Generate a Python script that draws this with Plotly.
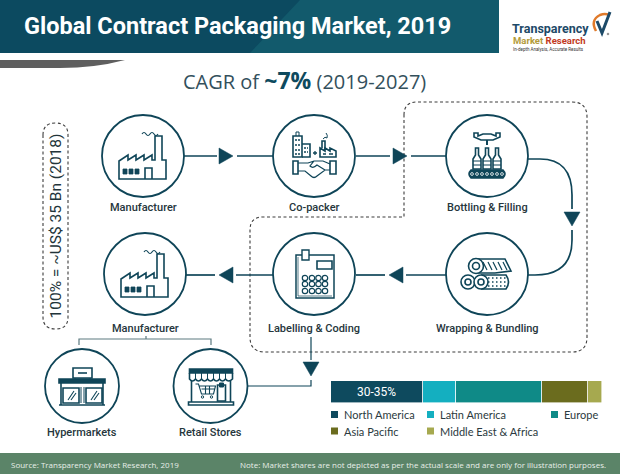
import re
import plotly.graph_objects as go

# market share bar
regions = ["North America", "Latin America", "Europe", "Asia Pacific", "Middle East & Africa"]
region_share = [34, 12, 32, 17, 5]
region_text = ["30-35%", "", "", "", ""]
region_colors = ["#0e4a5e", "#14afc0", "#0f8a87", "#6b6c1e", "#a6a94f"]

title_text = "Global Contract Packaging Market, 2019"
cagr_text = "CAGR of <b><span style='color:#0e4a5e;font-size:23px'>~7%</span></b> (2019-2027)"
size_text = "100% = ~US$ 35 Bn (2018)"
source_text = "Source: Transparency Market Research, 2019"
note_text = "Note: Market shares are not depicted as per the actual scale and are only for illustration purposes."
step_labels = ["Manufacturer", "Co-packer", "Bottling & Filling", "Wrapping & Bundling",
               "Labelling & Coding", "Manufacturer", "Hypermarkets", "Retail Stores"]

DARK = "#0f4558"
shapes = []
notes = []


def shift(d, cx, cy):
    # move a path written around 0,0 to the icon centre
    nums = iter(range(100000))
    def repl(m):
        v = float(m.group(0))
        return str(v + (cx if next(nums) % 2 == 0 else cy))
    return re.sub(r"-?\d+\.?\d*", repl, d)


def line(d, color=DARK, width=1.6, fill=None, dash=None):
    s = dict(type="path", path=d, xref="x", yref="y", line=dict(color=color, width=width, dash=dash))
    if fill:
        s["fillcolor"] = fill
    shapes.append(s)


def circle(cx, cy, r, color=DARK, width=1.8, fill=None):
    s = dict(type="circle", xref="x", yref="y", x0=cx - r, x1=cx + r, y0=cy - r, y1=cy + r,
             line=dict(color=color, width=width))
    if fill:
        s["fillcolor"] = fill
    shapes.append(s)


def rect(x0, y0, x1, y1, fill, color=None):
    shapes.append(dict(type="rect", xref="x", yref="y", x0=x0, x1=x1, y0=y0, y1=y1,
                       fillcolor=fill, line=dict(width=0 if color is None else 1, color=color)))


def text(x, y, s, size=11, color="#26363c", anchor="center", family="Roboto", weight=None, angle=0):
    f = dict(size=size, color=color, family=family)
    if weight:
        f["weight"] = weight
    notes.append(dict(x=x, y=y, xref="x", yref="y", text=s, showarrow=False, xanchor=anchor,
                      yanchor="middle", font=f, textangle=angle))


def tri(cx, cy, direction, size=7):
    if direction == "right":
        d = f"M{cx-size} {cy-size-1} L{cx+size} {cy} L{cx-size} {cy+size+1} Z"
    elif direction == "left":
        d = f"M{cx+size} {cy-size-1} L{cx-size} {cy} L{cx+size} {cy+size+1} Z"
    else:
        d = f"M{cx-size-1} {cy-size} L{cx+size+1} {cy-size} L{cx} {cy+size} Z"
    line(d, fill=DARK, width=0.5)


def factory(cx, cy):
    line(shift("M-24 23 L-24 5 L-15 -1 L-15 4 L-7 -1 L-7 4 L1 -1 L1 4 L9 -1 L9 4 L12 4 L12 -20 L19 -20 L19 4 L23 4 L23 23 Z", cx, cy))
    line(shift("M-1 -22 Q1 -25 3 -22 Q5 -19 7 -22 Q9 -25 11 -22 Q13 -19 15 -22", cx, cy), width=1.2)
    for wx in (-20, -14, -8):
        line(shift(f"M{wx} 13 L{wx+4} 13 L{wx+4} 18 L{wx} 18 Z", cx, cy), fill=DARK, width=0.8)
    line(shift("M2 23 L2 12 L9 12 L9 23", cx, cy))


def copacker(cx, cy):
    line(shift("M-21 1 L-21 -20 L-12 -20 L-12 1 Z", cx, cy))
    line(shift("M-18 -20 L-18 -24 L-15 -24 L-15 -20", cx, cy), width=1)
    line(shift("M-12 -12 L-4 -12 L-4 1 L-12 1", cx, cy))
    for wy in (-16, -11, -6, -2):
        line(shift(f"M-19 {wy} L-14 {wy}", cx, cy), width=1.4, dash="2px,1px")
    for wy in (-8, -4):
        line(shift(f"M-10 {wy} L-6 {wy}", cx, cy), width=1.4, dash="2px,1px")
    line(shift("M-1 -3 L3 -3 M1 -5 L1 -1", cx, cy), width=1.3)
    line(shift("M6 1 L6 -8 L11 -5 L11 -8 L16 -5 L16 -8 L22 -5 L22 1 Z", cx, cy))
    line(shift("M8 -8 L8 -15 L11 -15 L11 -6", cx, cy))
    line(shift("M9 -17 Q11 -20 13 -18 Q14 -21 12 -23", cx, cy), width=1)
    line(shift("M9 -2 L12 -2 M15 -2 L19 -2", cx, cy), width=1.6)
    line(shift("M-21 5 L-16 5 L-16 18 L-21 18 Z M22 5 L16 5 L16 18 L22 18 Z", cx, cy))
    line(shift("M-16 7 L-6 7 L0 5 L9 5 L16 8 M-16 15 L-9 15 L-3 20 Q0 23 3 20 L11 14 L16 14 M0 5 L-4 10 Q-1 13 3 9 L11 14", cx, cy), width=1.2)


def bottling(cx, cy):
    line(shift("M-13 -23 L-9 -23 L-9 -20 L-4 -22 L4 -22 L9 -20 L9 -23 L13 -23 L13 -19 L6 -16 L-6 -16 L-13 -19 Z", cx, cy))
    line(shift("M0 -16 L0 -11", cx, cy), width=2)
    for bx in (-10, 0, 10):
        line(shift(f"M{bx-1.5} -8 L{bx+1.5} -8 L{bx+1.5} -1 L{bx+4} 3 L{bx+4} 13 L{bx-4} 13 L{bx-4} 3 L{bx-1.5} -1 Z", cx, cy))
        line(shift(f"M{bx-4} 5 L{bx+4} 5 M{bx-4} 9 L{bx+4} 9", cx, cy), width=1)
    line(shift("M-16 14 L16 14 Q20 18 16 22 L-16 22 Q-20 18 -16 14 Z", cx, cy), fill=DARK)
    for rx in range(-15, 16, 5):
        circle(cx + rx, cy + 18, 1.4, color="#ffffff", width=0.8)


def wrapping(cx, cy):
    line(shift("M-11 -15 L18 -15 L24 -3 L8 -1 M-11 -1 L8 -1", cx, cy))
    line(shift("M-4 -12 L0 -4 M1 -12 L5 -4 M6 -12 L10 -4 M11 -12 L15 -4 M16 -12 L20 -4", cx, cy), width=1.2)
    line(shift("M-6 1 L19 1 Q24 8 19 15 L-6 15", cx, cy))
    for rx in range(1, 21, 4):
        for ry in (4, 8, 12):
            line(shift(f"M{rx} {ry} L{rx+1.5} {ry}", cx, cy), width=1.3)
    for (ex, ey, r) in ((-11, -8, 7.5), (-19, 8, 7), (-6, 8, 7)):
        circle(cx + ex, cy + ey, r, fill="#ffffff", width=1.6)
        circle(cx + ex, cy + ey, r - 4, width=1.6)


def labelling(cx, cy):
    line(shift("M-18 -19 L20 -19 L20 24 L-18 24 Z", cx, cy), width=1.5)
    line(shift("M-16 -17 L-16 22 L18 22", cx, cy), width=0.7)
    line(shift("M-12 -24 L-5 -24 L-5 -14 L-12 -14 Z", cx, cy), fill="#ffffff", width=1.4)
    line(shift("M3 -13 L18 -13 L18 -5 L3 -5 Z", cx, cy))
    for ky in (4, 10, 17):
        for kx in (-9, -2, 4.5, 11):
            circle(cx + kx, cy + ky, 2.7, width=1.2)


def hypermarket(cx, cy):
    line(shift("M-9 -18 L10 -18 L10 -8 L-9 -8 Z", cx, cy))
    line(shift("M-4 -13 L5 -13", cx, cy), width=1.6)
    line(shift("M-7 -8 L-7 -6 L8 -6 L8 -8", cx, cy), width=1)
    line(shift("M-23 -3 L-23 -7 L23 -7 L23 -3 Z", cx, cy), fill=DARK)
    line(shift("M-21 -3 L-21 19 M21 -3 L21 19 M-23 19 L23 19", cx, cy))
    line(shift("M-19 2 L-3 2 L-3 17 L-19 17 Z M4 2 L20 2 L20 17 L4 17 Z", cx, cy))
    line(shift("M-1 1 L-1 17 M2 1 L2 17", cx, cy), width=1)
    line(shift("M-14 14 L-8 5 M-11 14 L-6 7 M9 14 L15 5 M12 14 L17 7", cx, cy), width=1.1)


def retail(cx, cy):
    line(shift("M-21 -17 L22 -17 L22 -13 L-21 -13 Z", cx, cy), fill=DARK)
    line(shift("M-21 -13 L-21 -7 Q-18 -3 -15 -7 Q-12 -3 -9 -7 Q-6 -3 -3 -7 Q0 -3 3 -7 Q6 -3 9 -7 Q12 -3 15 -7 Q18 -3 22 -7 L22 -13", cx, cy))
    line(shift("M-15 -13 L-15 -7 M-9 -13 L-9 -7 M-3 -13 L-3 -7 M3 -13 L3 -7 M9 -13 L9 -7 M15 -13 L15 -7", cx, cy), width=1)
    line(shift("M-19 -5 L-19 16 M20 -5 L20 16 M-22 16 L23 16 L23 19 L-22 19 Z", cx, cy))
    line(shift("M7 -1 L15 -1 L15 15 L7 15 Z", cx, cy))
    line(shift("M9 -3 L13 -3 L13 1 L9 1 Z", cx, cy), width=1, fill=DARK)
    line(shift("M-15 -2 L-12 -2 L-9 8 L3 8 L5 0 L-11 0 M-9 3 L4 3 M-5 0 L-5 8 M-1 0 L-1 8", cx, cy), width=1.1)
    circle(cx - 8, cy + 11, 1.2, width=1)
    circle(cx + 1, cy + 11, 1.2, width=1)


# header, swoosh, footer
rect(0, 0, 499, 53, "#0c4a60")
line("M300 0 L499 0 L499 53 L250 53 Z", color="#125a6c", width=0, fill="#125a6c")
line("M0 60 L125 60 Q95 68 60 68 L0 68 Z", color="#5f5f5f", width=0, fill="#5f5f5f")
rect(0, 453, 620, 474, "#5b8468")
text(22, 26, title_text, size=23.5, color="#ffffff", anchor="left", family="Roboto", weight="bold")
text(304, 80, cagr_text, size=20, color="#33505c", family="Open Sans")
text(9, 464, source_text, size=8, color="#e8efe8", anchor="left", family="Open Sans")
text(608, 464, note_text, size=8, color="#e8efe8", anchor="right", family="Open Sans")

# logo
text(510, 28, "Transparency", size=12.5, color="#1d4a68", anchor="left", family="Roboto", weight="bold")
text(511, 40.5, "<span style='color:#b39b3a'>Market</span> <span style='color:#c23a22'>Research</span>",
     size=9.5, anchor="left", family="Roboto", weight="bold")
text(511, 49.5, "In-depth Analysis, Accurate Results", size=4.5, color="#333333", anchor="left")
line("M596 31 Q590 20 600 15 Q605 13 609 15", color="#e07a2a", width=2.5)
line("M597 21 L602 33 L610 12", color="#1d4a68", width=3)
circle(608, 34, 0.8, color="#777777", width=1)

# dashed frames
line("M404 115 Q404 102 417 102 L572 102 Q587 102 587 117 L587 337 Q587 352 572 352 L265 352 "
     "Q250 352 250 337 L250 230 Q250 217 263 217 L404 217 Z", color="#3c3c3c", width=1.1, dash="3px,2.5px")
line("M43 135 Q43 123 55.5 123 Q68 123 68 135 L68 317 Q68 329 55.5 329 Q43 329 43 317 Z",
     color="#3c3c3c", width=1.1, dash="3px,2.5px")
text(55.5, 226, size_text, size=15.5, color="#22343a", family="Roboto", angle=-90)

# process flow lines
for d in ("M184 156 L217 156", "M237 156 L273 156", "M356 156 L390 156", "M411 156 L446 156",
          "M528 159 L540 159 Q572 159 572 195 L572 209", "M572 230 L572 240 Q572 275 535 275 L528 275",
          "M446 275 L406 275", "M385 275 L356 275", "M273 275 L236 275", "M215 275 L186 275"):
    line(d, width=1.7)
line("M311 337 L311 360", width=1.2)
line("M311 380 L311 386 L247 386", width=1.2)
line("M146 336 L146 339 M79 345 L79 339 L211 339 L211 345", color="#5c7a80", width=1.2)
tri(226, 156, "right")
tri(400, 156, "right")
tri(572, 219, "down")
tri(396, 275, "left")
tri(226, 275, "left")
tri(311, 369, "down")

# circles with icons
centers = [(143, 156, 41), (314, 156, 41), (487, 156, 41), (487, 274, 41),
           (314, 274, 41), (145, 274, 41), (82, 386, 37), (210.5, 386, 37)]
icons = [factory, copacker, bottling, wrapping, labelling, factory, hypermarket, retail]
label_y = [207, 207, 207, 328, 328, 328, 432, 432]
for (cx, cy, r), icon, lab, ly in zip(centers, icons, step_labels, label_y):
    circle(cx, cy, r, fill="#ffffff")
    icon(cx, cy)
    text(cx, ly, lab, size=11, weight=500)

# legend under the bar
legend_pos = [(331, 414.5), (427, 414.5), (551, 414.5), (331, 431), (427, 431)]
for (lx, ly), name, col in zip(legend_pos, regions, region_colors):
    rect(lx, ly - 3.5, lx + 7, ly + 3.5, col)
    text(lx + 11, ly, name, size=11, color="#2b3a40", anchor="left", family="Lato")

fig = go.Figure()
for name, val, col, lab in zip(regions, region_share, region_colors, region_text):
    fig.add_trace(go.Bar(y=["share"], x=[val], name=name, orientation="h", xaxis="x2", yaxis="y2",
                         marker=dict(color=col, line=dict(color="#ffffff", width=0.6)),
                         text=[lab], textposition="inside", insidetextanchor="middle",
                         insidetextfont=dict(color="#ffffff", size=12, family="Roboto"),
                         hoverinfo="x+name", width=1))

fig.update_layout(
    width=620, height=474, margin=dict(l=0, r=0, t=0, b=0),
    paper_bgcolor="#ffffff", plot_bgcolor="rgba(0,0,0,0)",
    showlegend=False, barmode="stack", bargap=0,
    shapes=shapes, annotations=notes,
    xaxis=dict(range=[0, 620], domain=[0, 1], visible=False),
    yaxis=dict(range=[474, 0], domain=[0, 1], visible=False),
    xaxis2=dict(range=[0, 100], domain=[331 / 620, 602 / 620], anchor="y2", visible=False),
    yaxis2=dict(domain=[71 / 474, 93 / 474], anchor="x2", visible=False),
)

# drop the browser's default page margin so the figure fills the window
fig.write_html("out.html", config=dict(displayModeBar=False),
               post_script="document.body.style.margin='0';")
